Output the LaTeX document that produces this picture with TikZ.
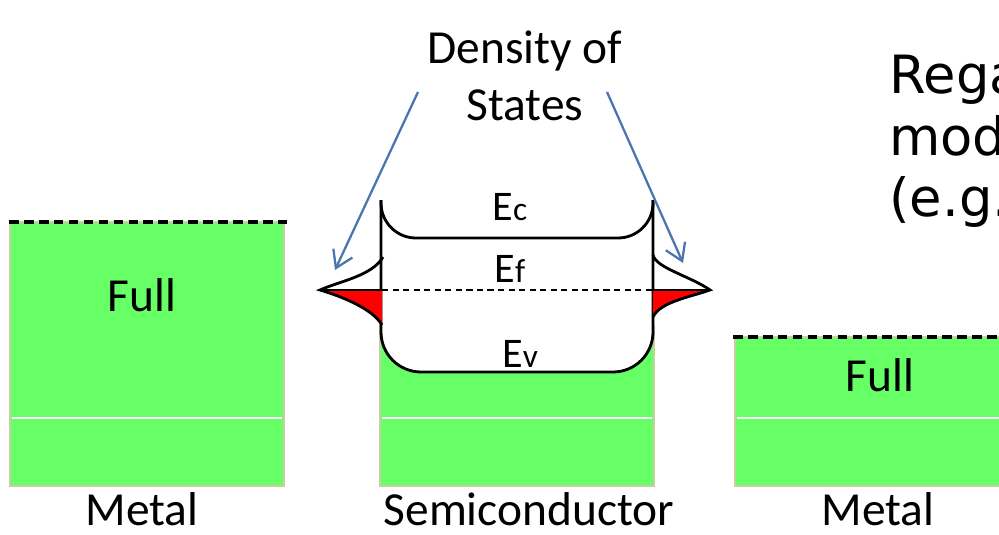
\documentclass[tikz,border=0pt]{standalone}
\usepackage{fontspec}
\setmainfont{Carlito}
\newfontfamily\handfont{DejaVu Sans}
\usetikzlibrary{arrows.meta}
\definecolor{bandgreen}{HTML}{66FF66}
\definecolor{bandedge}{HTML}{C8CFA2}
\definecolor{dosblue}{HTML}{4A75AE}

\begin{document}
\begin{tikzpicture}[x=0.2mm, y=-0.2mm,
    band/.style={fill=bandgreen, draw=bandedge, line width=1.3pt},
    fermi/.style={line width=2pt, dash pattern=on 5.5pt off 3pt},
    efline/.style={line width=1.2pt, dash pattern=on 3.5pt off 2.5pt},
    curve/.style={line width=1.6pt},
    label/.style={font=\fontsize{27}{32}\selectfont, inner sep=0pt},
    elabel/.style={font=\fontsize{24}{28}\selectfont, inner sep=0pt, anchor=base},
    dosarrow/.style={dosblue, line width=1.3pt, -{Straight Barb[length=3.3mm,width=4.2mm]}}]
  \useasboundingbox (0,0) rectangle (999,535);
  \begin{scope}
  \clip (0,0) rectangle (999,535);

  % metal, left
  \draw[band] (10,222) rectangle (284,486);
  \draw[white, line width=0.6pt] (12,418) -- (282,418);
  \draw[fermi] (9,222) -- (287,222);
  \node[label, anchor=base] (fullL) at (142,311) {Full};

  % semiconductor
  \draw[band] (380,326) rectangle (654,486);
  \draw[white, line width=0.6pt] (382,418) -- (652,418);
  \fill[white, rounded corners=8mm] (381,200) -- (381,372) -- (653,372) -- (653,200) -- cycle;
  \draw[curve, rounded corners=8mm] (381,200) -- (381,372) -- (653,372) -- (653,200);
  \draw[curve, rounded corners=7mm] (381,200) -- (381,238) -- (653,238) -- (653,200);
  \node[elabel] (ec) at (510,220) {E{\fontsize{19}{20}\selectfont c}};
  \node[elabel] (ef) at (510,282) {E{\fontsize{19}{20}\selectfont f}};
  \node[elabel] (ev) at (520,367) {E{\fontsize{19}{20}\selectfont v}};

  % density of states, both sides
  \fill[red] (382,290) -- (320,290) .. controls (340,296) and (372,308) .. (382,324) -- cycle;
  \draw[curve] (383,257) .. controls (372,276) and (340,281) .. (320,290)
        .. controls (340,296) and (372,308) .. (382,325);
  \fill[red] (653,290) -- (710,290) .. controls (690,297) and (660,302) .. (653,315) -- cycle;
  \draw[curve] (653,255) .. controls (656,268) and (690,276) .. (710,290)
        .. controls (690,297) and (660,302) .. (653,317);
  \draw[curve] (320,290) -- (382,290);
  \draw[curve] (653,290) -- (710,290);
  \draw[efline] (382,290) -- (653,290);

  \node[label, align=center, anchor=north] (dos) at (525,31) {Density of\\States};
  \coordinate (dosLtail) at (418,92);
  \coordinate (dosLtip) at (335,270);
  \coordinate (dosRtail) at (607,92);
  \coordinate (dosRtip) at (683,263);
  \draw[dosarrow] (dosLtail) -- (dosLtip);
  \draw[dosarrow] (dosRtail) -- (dosRtip);

  % metal, right
  \draw[band] (735,337) rectangle (1010,486);
  \draw[white, line width=0.6pt] (737,418) -- (1005,418);
  \draw[fermi] (733,337) -- (1005,337);
  \node[label, anchor=base] (fullR) at (880,391) {Full};

  % note, cut at the edge
  \node[anchor=north west, align=left, inner sep=0pt,
        font=\handfont\fontsize{30}{35}\selectfont] (note) at (889,55) {Rega\\modu\\(e.g.};
  \end{scope}

  % names under the bands
  \node[label, anchor=base] (metalL) at (142,525) {Metal};
  \node[label, anchor=base] (semi) at (529,525) {Semiconductor};
  \node[label, anchor=base] (metalR) at (878,525) {Metal};
\end{tikzpicture}
\end{document}
